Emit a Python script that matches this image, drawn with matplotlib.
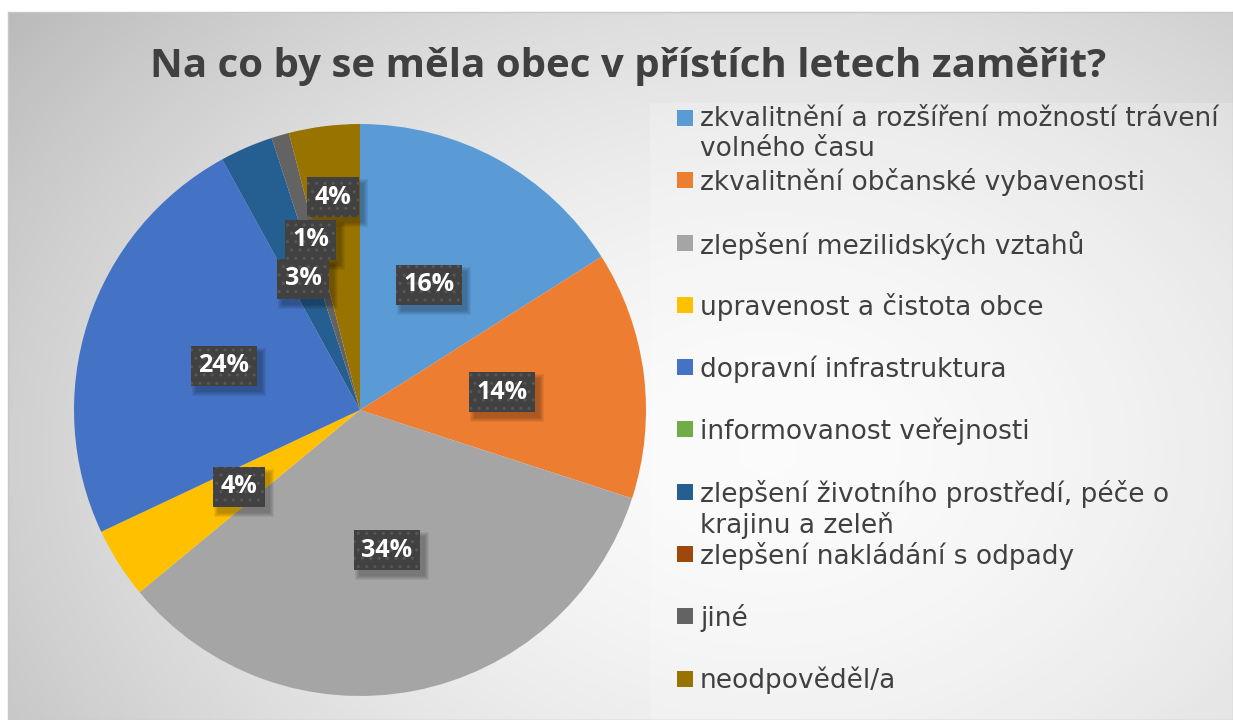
import numpy as np
import matplotlib.pyplot as plt
from matplotlib.patches import Rectangle
from matplotlib.transforms import IdentityTransform

# odpovedi na otazku - podil v procentech
categories = [
    'zkvalitnění a rozšíření možností trávení\nvolného času',
    'zkvalitnění občanské vybavenosti',
    'zlepšení mezilidských vztahů',
    'upravenost a čistota obce',
    'dopravní infrastruktura',
    'informovanost veřejnosti',
    'zlepšení životního prostředí, péče o\nkrajinu a zeleň',
    'zlepšení nakládání s odpady',
    'jiné',
    'neodpověděl/a',
]
percent = [16, 14, 34, 4, 24, 0, 3, 0, 1, 4]
colors = ['#5B9BD5', '#ED7D31', '#A5A5A5', '#FFC000', '#4472C4',
          '#70AD47', '#255E91', '#9E480E', '#636363', '#997300']
# posun popisku od stredu (podil polomeru), male vysece jsou odsunute ven
label_r = [0.5, 0.5, 0.5, 0.5, 0.5, 0.5, 0.5, 0.5, 0.62, 0.75]

W, H = 1233, 720
fig = plt.figure(figsize=(W / 100, H / 100), dpi=100)
fig.patch.set_facecolor('white')

# pozadi s kruhovym prechodem
bg = fig.add_axes([8 / W, 0, 1 - 8 / W, 1 - 12 / H])
yy, xx = np.mgrid[0:708, 0:1225]
d = np.hypot((xx - 760) / 760, (yy - 440) / 560)
shade = 0.985 - 0.17 * np.clip(d, 0, 1.3) ** 1.7
bg.imshow(np.dstack([shade] * 3), aspect='auto', extent=[0, 1, 0, 1],
          origin='upper', interpolation='bilinear')
bg.add_patch(Rectangle(((650 - 8) / (W - 8), 0), 1, (708 - 91) / 708,
                       transform=bg.transAxes, fc='white', ec='none', alpha=0.2))
for s in bg.spines.values():
    s.set_color('#c8c8c8')
    s.set_linewidth(1.0)
bg.set_xticks([])
bg.set_yticks([])

fig.text(628 / W, 1 - 66 / H, 'Na co by se měla obec v přístích letech zaměřit?',
         ha='center', va='center', fontsize=29, fontweight='bold',
         family='Open Sans', color='#404040')

# kolacovy graf
cx, cy, R = 360, 410, 286
ax = fig.add_axes([(cx - R) / W, (H - cy - R) / H, 2 * R / W, 2 * R / H])
wedges, _ = ax.pie(percent, colors=colors, startangle=90, counterclock=False,
                   radius=1, wedgeprops=dict(linewidth=0))
ax.set_xlim(-1, 1)
ax.set_ylim(-1, 1)
ax.set_aspect('equal')
ax.axis('off')

labels = []
cum = 0
for p, r in zip(percent, label_r):
    mid = cum + p / 2
    cum += p
    if p == 0:
        continue
    ang = np.deg2rad(90 - 360 * mid / 100)
    t = ax.text(r * np.cos(ang), r * np.sin(ang), f'{p}%', ha='center', va='center',
                fontsize=18, fontweight='bold', family='Open Sans', color='white',
                zorder=5,
                bbox=dict(boxstyle='square,pad=0.3', fc='#414141', ec='#575757',
                          lw=0, hatch='..'))
    labels.append(t)

# rozmazany stin pod popisky (nekolik posunutych obdelniku)
fig.canvas.draw()
for t in labels:
    bb = t.get_bbox_patch().get_window_extent()
    for k in range(5):
        g = 4 - k
        ax.add_artist(Rectangle((bb.x0 + 5 - g, bb.y0 - 6 - g),
                                bb.width + 2 * g, bb.height + 2 * g,
                                transform=IdentityTransform(), fc='black',
                                ec='none', alpha=0.06, zorder=4, clip_on=False))

# legenda
y0, step = 118, 62.3
for i, (lab, c) in enumerate(zip(categories, colors)):
    y = y0 + i * step
    fig.patches.append(Rectangle((677 / W, 1 - (y + 8) / H), 16 / W, 16 / H,
                                 transform=fig.transFigure, fc=c, ec='none'))
    fig.text(700 / W, 1 - (y - 12) / H, lab, ha='left', va='top', fontsize=19,
             family='DejaVu Sans', color='#404040', linespacing=1.2)

fig.savefig('out.png', dpi=100)
